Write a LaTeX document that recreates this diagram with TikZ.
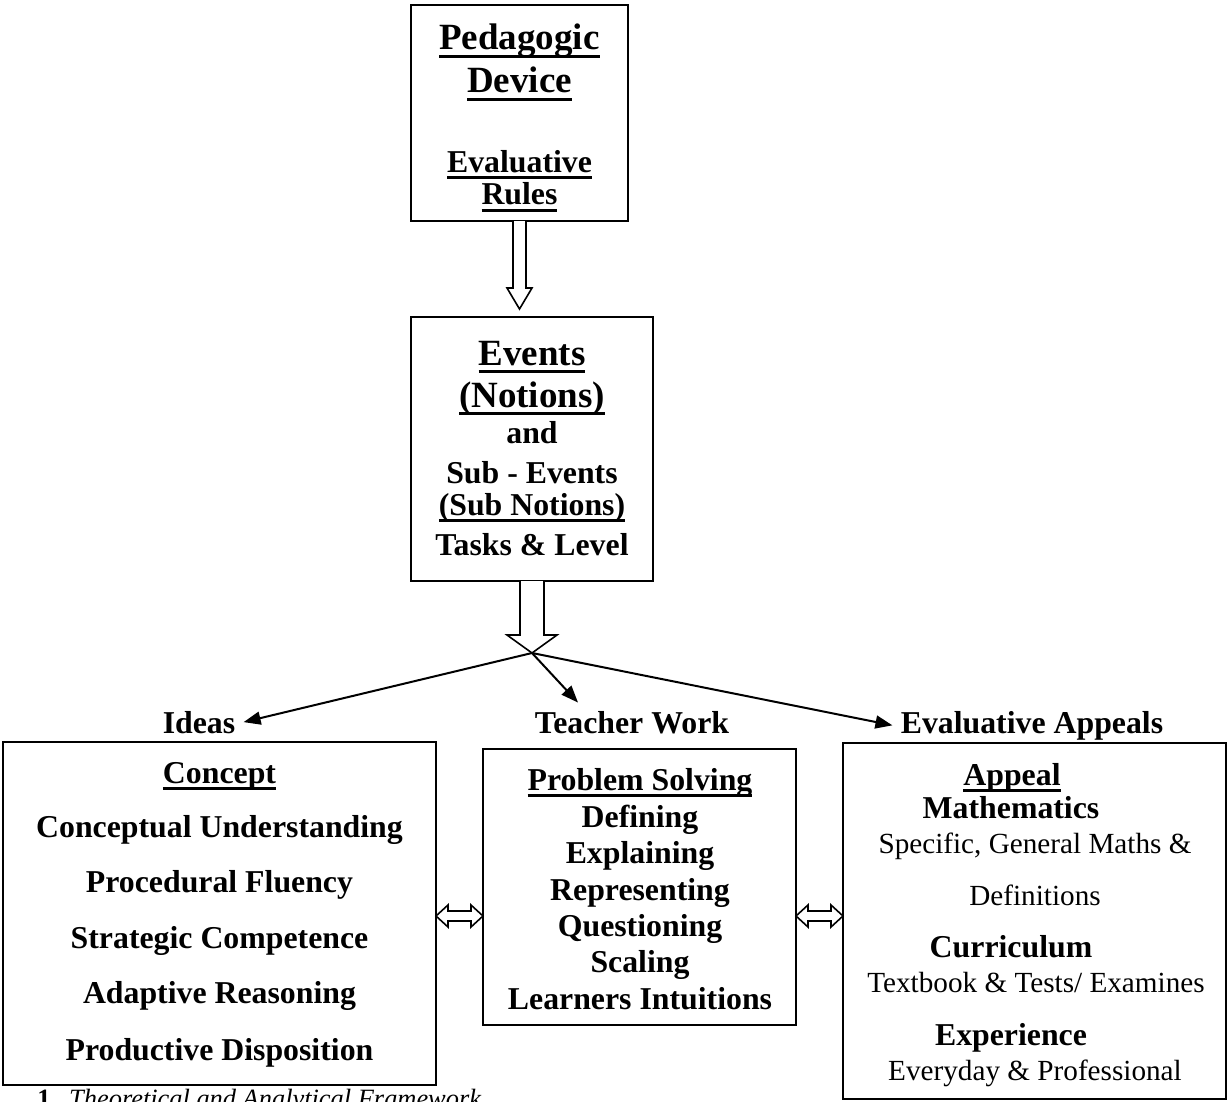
\documentclass[tikz,border=0pt]{standalone}
\usepackage{fontspec}
\setmainfont{Liberation Serif}
\usepackage{tikz}
\usetikzlibrary{arrows.meta,fit,calc}

\newsavebox\ulbox
\newcommand{\undl}[1]{\sbox\ulbox{#1}\rlap{\rule[-0.21em]{\wd\ulbox}{0.08em}}\usebox\ulbox}

\tikzset{
	box/.style={draw, line width=1pt, inner sep=0pt},
	bigtxt/.style={anchor=base, inner sep=0pt, font=\fontsize{18.5}{22}\selectfont\bfseries},
	boldtxt/.style={anchor=base, inner sep=0pt, font=\fontsize{15.9}{19}\selectfont\bfseries},
	lighttxt/.style={anchor=base, inner sep=0pt, font=\fontsize{14.6}{17}\selectfont},
	headtxt/.style={boldtxt, inner sep=4pt},
	hollow/.style={draw, line width=0.8pt, fill=white, line join=miter},
	fan/.style={line width=1pt, -{Triangle[length=8.5pt,width=6.5pt]}}
}

\begin{document}
\begin{tikzpicture}[x=0.5pt, y=-0.5pt]
	\useasboundingbox (0,0) rectangle (1227,1102);

	% top boxes
	\node[box, fit={(411,5) (628,221)}] (dev) {};
	\node[bigtxt] (dev1) at (519.5,50) {\undl{Pedagogic}};
	\node[bigtxt] (dev2) at (519.5,93) {\undl{Device}};
	\node[boldtxt] (dev3) at (519.5,172) {\undl{Evaluative}};
	\node[boldtxt] (dev4) at (519.5,205) {\undl{Rules}};

	\node[box, fit={(411,317) (653,581)}] (evt) {};
	\node[bigtxt] (evt1) at (532,365) {\undl{Events}};
	\node[bigtxt] (evt2) at (532,407) {\undl{(Notions)}};
	\node[boldtxt] (evt3) at (532,443) {and};
	\node[boldtxt] (evt4) at (532,483) {Sub - Events};
	\node[boldtxt] (evt5) at (532,515) {\undl{(Sub Notions)}};
	\node[boldtxt] (evt6) at (532,555) {Tasks \& Level};

	\draw[hollow] (513,221) -- (513,288) -- (507,288) -- (519.5,309) -- (532,288) -- (526,288) -- (526,221);
	\coordinate (hub) at (532,653);
	\draw[hollow] (520,581) -- (520,635) -- (507,635) -- (hub) -- (557,635) -- (544,635) -- (544,581);

	% three headings
	\node[headtxt] (ideas) at (199,733) {Ideas};
	\node[headtxt] (tw) at (632,733) {Teacher Work};
	\node[headtxt] (ea) at (1032,733) {Evaluative Appeals};
	\draw[fan] (hub) -- (ideas.east);
	\draw[fan] (hub) -- ($(tw.north)+(-54,0)$);
	\draw[fan] (hub) -- (ea.west);

	% left box
	\node[box, fit={(3,742) (436,1085)}] (lft) {};
	\node[boldtxt] (con) at (219.5,783) {\undl{Concept}};
	\foreach \t/\y [count=\i] in {Conceptual Understanding/837, Procedural Fluency/892,
		Strategic Competence/948, Adaptive Reasoning/1003, Productive Disposition/1060}
		\node[boldtxt] (con\i) at (219.5,\y) {\t};

	% middle box
	\node[box, fit={(483,749) (796,1025)}] (mid) {};
	\node[boldtxt] (ps) at (640,790) {\undl{Problem Solving}};
	\foreach \t/\y [count=\i] in {Defining/827, Explaining/863, Representing/900,
		Questioning/936, Scaling/972, Learners Intuitions/1009}
		\node[boldtxt] (ps\i) at (640,\y) {\t};

	% right box
	\node[box, fit={(843,743) (1226,1099)}] (rgt) {};
	\node[boldtxt] (app) at (1012,785) {\undl{Appeal}};
	\node[boldtxt] (app1) at (1011,818) {Mathematics};
	\node[lighttxt] (app2) at (1035,853) {Specific, General Maths \&};
	\node[lighttxt] (app3) at (1035,905) {Definitions};
	\node[boldtxt] (app4) at (1011,957) {Curriculum};
	\node[lighttxt] (app5) at (1036,992) {Textbook \& Tests/ Examines};
	\node[boldtxt] (app6) at (1011,1045) {Experience};
	\node[lighttxt] (app7) at (1035,1080) {Everyday \& Professional};

	% double arrows
	\foreach \a/\b in {436/483, 796/843}
		\draw[hollow] (\a,916) -- ++(12,-11) -- ++(0,6) -- ({\b-12},911) -- ++(0,-6) -- (\b,916)
			-- ({\b-12},927) -- ++(0,-6) -- ({\a+12},921) -- ++(0,6) -- cycle;

	\node[anchor=base west, inner sep=0pt, font=\fontsize{13.2}{16}\selectfont] (cap) at (37,1107)
		{\textbf{1.}\hspace{6pt}\textit{Theoretical and Analytical Framework}};
\end{tikzpicture}
\end{document}
